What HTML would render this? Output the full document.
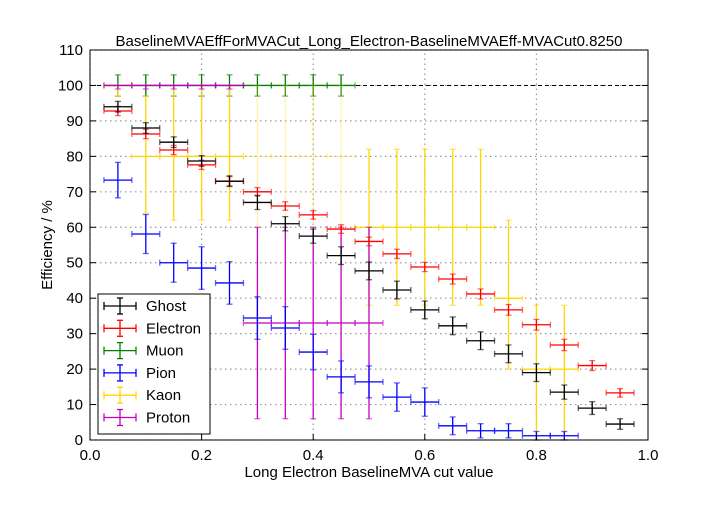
<!DOCTYPE html>
<html><head><meta charset="utf-8"><style>
body{margin:0;background:#fff;}
svg text{font-family:"Liberation Sans",sans-serif;}
</style></head><body>
<svg id="chart" width="720" height="504" xmlns="http://www.w3.org/2000/svg">
<text x="369" y="46" font-size="15" text-anchor="middle">BaselineMVAEffForMVACut_Long_Electron-BaselineMVAEff-MVACut0.8250</text>
<text x="369" y="477" font-size="15" text-anchor="middle">Long Electron BaselineMVA cut value</text>
<text x="52" y="245" font-size="15" text-anchor="middle" transform="rotate(-90 52 245)">Efficiency / %</text>
<g id="grid"></g><g id="marks"></g><g id="axes"></g><g id="legend"></g>
</svg>
<script>
const xCenters=[0.05,0.10,0.15,0.20,0.25,0.30,0.35,0.40,0.45,0.50,0.55,0.60,0.65,0.70,0.75,0.80,0.85,0.90,0.95];
const ghostVals=[94,88,84,78.7,73,67,61,57.5,52,47.7,42.3,36.7,32.2,28,24.3,19,13.5,9,4.5];
const ghostErr=[1.5,1.5,1.5,1.5,1.5,2,2,2,2.5,2.5,2.5,2.5,2.5,2.5,2.5,2.5,2,1.8,1.5];
const electronVals=[92.8,86.3,81.8,77.6,73,70,66,63.5,59.5,56,52.5,48.8,45.4,41.2,36.7,32.5,26.8,21,13.3];
const electronErr=[1.3,1.3,1.3,1.3,1.3,1.2,1.2,1.2,1.2,1.2,1.3,1.3,1.4,1.4,1.5,1.5,1.6,1.4,1.2];
const pionVals=[73.3,58.1,50,48.5,44.3,34.4,31.6,24.8,17.8,16.4,12.1,10.7,4,2.6,2.6,1.2,1.2];
const pionErr=[5,5.5,5.5,6,6,6,6,5,4.5,4.5,4,4,2.5,2,2,1.2,1.2];
const kaonVals=[100,80,80,80,80,80,80,80,80,60,60,60,60,60,40,20,20];
const kaonErrLo=[3,16,18,18,18,20,20,20,20,22,22,22,22,22,20,20,20];
const kaonErrHi=[0,17,20,20,20,20,20,20,20,22,22,22,22,22,22,18,18];
const muonVals=[100,100,100,100,100,100,100,100,100];
const muonErr=[3,3,3,3,3,3,3,3,3];
const protonX=[0.05,0.10,0.15,0.20,0.25,0.30,0.35,0.40,0.45,0.50];
const protonVals=[100,100,100,100,100,33,33,33,33,33];
const protonErrLo=[1,1,1,1,1,27,27,27,27,27];
const protonErrHi=[0,0,0,0,0,27,27,27,27,27];
const xTicks=[0,0.2,0.4,0.6,0.8,1.0];
const xTickLabels=["0.0","0.2","0.4","0.6","0.8","1.0"];
const yTicks=[0,10,20,30,40,50,60,70,80,90,100,110];

const X0=90,X1=648,Y0=440,Y1=50;
const sx=v=>X0+(X1-X0)*v;
const sy=v=>Y0-(Y0-Y1)*v/110;
const NS="http://www.w3.org/2000/svg";
function mk(parent,tag,attrs){const e=document.createElementNS(NS,tag);for(const k in attrs)e.setAttribute(k,attrs[k]);parent.appendChild(e);return e;}
const grid=document.getElementById('grid'),marks=document.getElementById('marks'),axes=document.getElementById('axes'),legend=document.getElementById('legend');

xTicks.forEach((t,i)=>{
  const g=mk(grid,'line',{x1:sx(t),x2:sx(t),y1:Y0,y2:Y1,stroke:'#999','stroke-dasharray':'1.5,3.5','stroke-width':1.2});
  
  
  const tk=mk(axes,'line',{x1:sx(t),x2:sx(t),y1:Y0,y2:Y0-6,stroke:'#000'});
  
  
  const tx=mk(axes,'text',{x:sx(t),y:Y0+20,'font-size':15,'text-anchor':'middle'});
  tx.textContent=xTickLabels[i];
  
  
});
yTicks.forEach(t=>{
  const g=mk(grid,'line',{x1:X0,x2:X1,y1:sy(t),y2:sy(t),stroke:'#999','stroke-dasharray':'1.5,3.5','stroke-width':1.2});
  
  
  const tk=mk(axes,'line',{x1:X0,x2:X0+6,y1:sy(t),y2:sy(t),stroke:'#000'});
  
  
  const tk2=mk(axes,'line',{x1:X1,x2:X1-6,y1:sy(t),y2:sy(t),stroke:'#000'});
  
  
  const tx=mk(axes,'text',{x:X0-7,y:sy(t)+5,'font-size':15,'text-anchor':'end'});
  tx.textContent=String(t);
  
  
});
const ref=mk(grid,'line',{x1:X0,x2:X1,y1:sy(100),y2:sy(100),stroke:'#000','stroke-dasharray':'4,3'});


const frame=mk(axes,'rect',{x:X0,y:Y1,width:X1-X0,height:Y0-Y1,fill:'none',stroke:'#000'});



function errbar(parent,cx,cy,lo,hi,color,name,op){
  const g=mk(parent,'g',{stroke:color,'stroke-width':1.3,fill:'none','opacity':op||1});
  
  
  const xa=sx(cx-0.025),xb=sx(cx+0.025),x=sx(cx),y=sy(cy),ylo=sy(cy-lo),yhi=sy(cy+hi);
  mk(g,'line',{x1:xa,x2:xb,y1:y,y2:y});
  mk(g,'line',{x1:xa,x2:xa,y1:y-3,y2:y+3,'stroke-opacity':0.6});
  mk(g,'line',{x1:xb,x2:xb,y1:y-3,y2:y+3,'stroke-opacity':0.6});
  mk(g,'line',{x1:x,x2:x,y1:ylo,y2:yhi});
  mk(g,'line',{x1:x-3,x2:x+3,y1:ylo,y2:ylo,'stroke-opacity':0.6});
  mk(g,'line',{x1:x-3,x2:x+3,y1:yhi,y2:yhi,'stroke-opacity':0.6});
}
const C={ghost:'#000',electron:'#ff0000',muon:'#008000',pion:'#0000ff',kaon:'#ffd700',proton:'#bf00bf'};
muonVals.forEach((v,i)=>errbar(marks,xCenters[i],v,muonErr[i],muonErr[i],C.muon,'muon-point'));
kaonVals.forEach((v,i)=>errbar(marks,xCenters[i],v,kaonErrLo[i],kaonErrHi[i],C.kaon,'kaon-point',(i>=5&&i<=8)?0.3:1));
protonVals.forEach((v,i)=>errbar(marks,protonX[i],v,protonErrLo[i],protonErrHi[i],C.proton,'proton-point'));
pionVals.forEach((v,i)=>errbar(marks,xCenters[i],v,pionErr[i],pionErr[i],C.pion,'pion-point'));
electronVals.forEach((v,i)=>errbar(marks,xCenters[i],v,electronErr[i],electronErr[i],C.electron,'electron-point'));
ghostVals.forEach((v,i)=>errbar(marks,xCenters[i],v,ghostErr[i],ghostErr[i],C.ghost,'ghost-point'));

const box=mk(legend,'rect',{x:98,y:294,width:112,height:140,fill:'#fff',stroke:'#000'});


[['Ghost','ghost'],['Electron','electron'],['Muon','muon'],['Pion','pion'],['Kaon','kaon'],['Proton','proton']].forEach((e,i)=>{
  const y=306+i*22.3;
  const g=mk(legend,'g',{stroke:C[e[1]],'stroke-width':1.3});
  
  
  mk(g,'line',{x1:104,x2:136,y1:y,y2:y});
  mk(g,'line',{x1:104,x2:104,y1:y-4,y2:y+4});
  mk(g,'line',{x1:136,x2:136,y1:y-4,y2:y+4});
  mk(g,'line',{x1:120,x2:120,y1:y-8,y2:y+8});
  mk(g,'line',{x1:117,x2:123,y1:y-8,y2:y-8});
  mk(g,'line',{x1:117,x2:123,y1:y+8,y2:y+8});
  const t=mk(legend,'text',{x:146,y:y+5,'font-size':15});
  t.textContent=e[0];
  
  
});
</script>
</body></html>
